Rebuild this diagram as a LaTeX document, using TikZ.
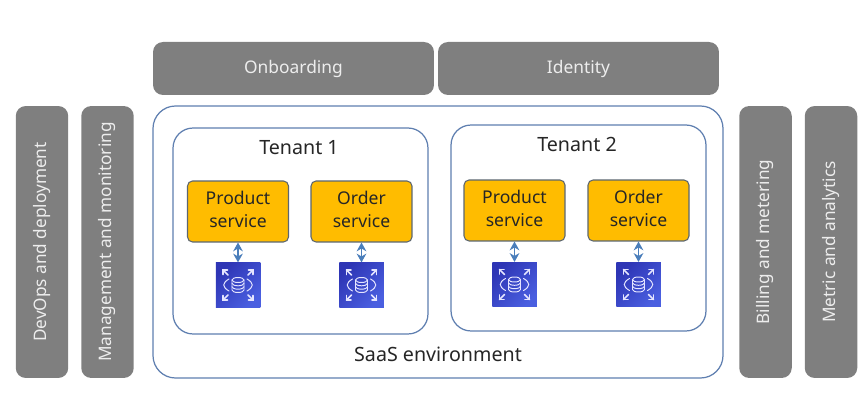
\documentclass[tikz,border=0pt]{standalone}
\usepackage{fontspec}
\setmainfont{Noto Sans}
\usepackage{xcolor}
\usetikzlibrary{arrows.meta}
\definecolor{bargray}{HTML}{7F7F7F}
\definecolor{barfont}{HTML}{EDEDED}
\definecolor{frameblue}{HTML}{5F7FB0}
\definecolor{svcorange}{HTML}{FFBC00}
\definecolor{svcedge}{HTML}{5C6670}
\definecolor{dbdark}{HTML}{2E35B5}
\definecolor{dblight}{HTML}{4A5FE0}
\definecolor{linkblue}{HTML}{4A7EBB}
\tikzset{
  x=0.02cm,y=-0.02cm,
  topbar/.style={fill=bargray,rounded corners=0.2cm,text=barfont,minimum width=5.62cm,minimum height=1.06cm,font=\fontsize{9.9}{13}\selectfont},
  sidebar/.style={fill=bargray,rounded corners=0.2cm,text=barfont,rotate=90,minimum width=5.44cm,minimum height=1.05cm,font=\fontsize{9.8}{13}\selectfont},
  envbox/.style={draw=frameblue,line width=0.7pt,fill=white,rounded corners=0.45cm},
  tenantbox/.style={envbox,rounded corners=0.4cm,minimum width=5.1cm,minimum height=4.12cm},
  svcbox/.style={draw=svcedge,line width=0.6pt,fill=svcorange,rounded corners=0.1cm,minimum width=2.02cm,minimum height=1.22cm,align=center,text depth=2.3pt,font=\fontsize{10}{13}\selectfont,text=black!85},
  dbicon/.style={left color=dbdark,right color=dblight,shading angle=45,minimum size=0.89cm,inner sep=0pt},
  biglabel/.style={font=\fontsize{11.2}{14}\selectfont,text=black!85},
  link/.style={{Stealth[length=5pt,width=5.5pt]}-{Stealth[length=5pt,width=5.5pt]},draw=linkblue,line width=0.8pt},
  dbglyph/.pic={
    % database cylinder with the arrows round it
    \begin{scope}[draw=white!90!blue,line width=0.55pt,line cap=round]
      \draw (-6,-5) -- (-6,5) arc[start angle=180,end angle=0,x radius=6,y radius=2.5] -- (6,-5);
      \draw (0,-5) ellipse[x radius=6,y radius=2.5];
      \draw (-6,-1.7) arc[start angle=180,end angle=0,x radius=6,y radius=2.5];
      \draw (-6,1.7) arc[start angle=180,end angle=0,x radius=6,y radius=2.5];
      \draw (-9,-6) .. controls (-16,-2) and (-16,2) .. (-9,6);
      \draw (9,-6) .. controls (16,-2) and (16,2) .. (9,6);
      \foreach \sx/\sy in {-1/-1,1/-1,-1/1,1/1}{
        \draw[line width=0.9pt] (\sx*10,\sy*10) -- (\sx*15,\sy*15);
        \draw[line width=0.9pt] (\sx*15,\sy*10.5) -- (\sx*15,\sy*15) -- (\sx*10.5,\sy*15);
      }
    \end{scope}
  }
}
\begin{document}
\begin{tikzpicture}
  \useasboundingbox (0,0) rectangle (868,401);

  \node[topbar] (onboard) at (293.5,68.5) {Onboarding};
  \node[topbar] (identity) at (578.5,68.5) {Identity};

  \node[sidebar] (devops) at (42,242) {DevOps and deployment};
  \node[sidebar] (manage) at (107.5,242) {Management and monitoring};
  \node[sidebar] (billing) at (765.5,242) {Billing and metering};
  \node[sidebar] (metric) at (831,242) {Metric and analytics};

  \draw[envbox] (153,106) rectangle (723,378);
  \node[biglabel] (saas) at (438,354) {SaaS environment};

  \node[tenantbox] (tenant1) at (300.5,231) {};
  \node[tenantbox] (tenant2) at (578.5,228) {};
  \node[biglabel] (t1label) at (299,148) {Tenant 1};
  \node[biglabel] (t2label) at (577,144) {Tenant 2};

  \node[svcbox] (prod1) at (238,211.5) {Product\\service};
  \node[svcbox] (order1) at (361.5,211.5) {Order\\service};
  \node[svcbox] (prod2) at (514.5,210.5) {Product\\service};
  \node[svcbox] (order2) at (638.5,210.5) {Order\\service};

  \node[dbicon] (db1) at (238,285) {};
  \node[dbicon] (db2) at (361.5,285) {};
  \node[dbicon] (db3) at (514.5,284.5) {};
  \node[dbicon] (db4) at (638.5,284.5) {};

  \foreach \n in {db1,db2,db3,db4}
    \pic at (\n) {dbglyph};

  \draw[link] (prod1) -- (db1);
  \draw[link] (order1) -- (db2);
  \draw[link] (prod2) -- (db3);
  \draw[link] (order2) -- (db4);
\end{tikzpicture}
\end{document}
